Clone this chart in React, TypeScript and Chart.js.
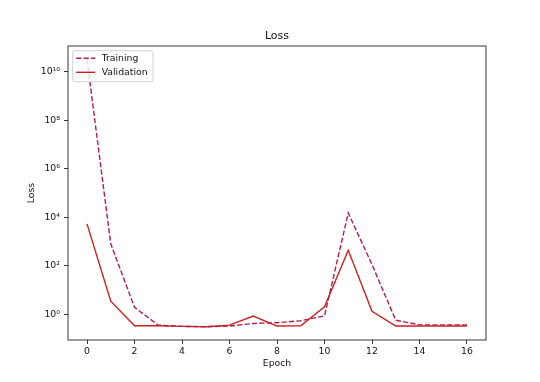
import React, { useEffect, useRef } from "react";
import { Chart, registerables } from "chart.js";

Chart.register(...registerables);

const epochs = [0, 1, 2, 3, 4, 5, 6, 7, 8, 9, 10, 11, 12, 13, 14, 15, 16];
const trainingLoss = [3.3e10, 800, 1.9, 0.35, 0.31, 0.3, 0.32, 0.41, 0.44, 0.53, 0.85, 15000, 110, 0.56, 0.36, 0.36, 0.36];
const validationLoss = [5300, 3.4, 0.33, 0.33, 0.31, 0.3, 0.35, 0.83, 0.32, 0.33, 2.0, 430, 1.3, 0.32, 0.32, 0.32, 0.32];
const xTicks = [0, 2, 4, 6, 8, 10, 12, 14, 16];
const yTicks = [1, 1e2, 1e4, 1e6, 1e8, 1e10];
const yTickLabels = ["10⁰", "10²", "10⁴", "10⁶", "10⁸", "10¹⁰"];
const seriesNames = ["Training", "Validation"];
const chartTitle = "Loss";
const xTitle = "Epoch";
const yTitle = "Loss";

const FONT = "'DejaVu Sans', sans-serif";
const TRAIN_COLOR = "#b0204a";
const VAL_COLOR = "#cc1f1f";

const framePlugin = {
  id: "frameAndExtras",
  afterDraw(chart: any) {
    const { ctx, chartArea } = chart;
    const { left, right, top, bottom } = chartArea;
    ctx.save();
    // frame
    ctx.strokeStyle = "#222";
    ctx.lineWidth = 0.9;
    ctx.strokeRect(left, top, right - left, bottom - top);
    // title
    ctx.fillStyle = "#111";
    ctx.font = `11px ${FONT}`;
    ctx.textAlign = "center";
    ctx.textBaseline = "middle";
    ctx.fillText(chartTitle, (left + right) / 2, top - 10);
    // legend
    const bx = left + 4.7, by = top + 4.7, bw = 80.3, bh = 31;
    const r = 2;
    ctx.beginPath();
    ctx.moveTo(bx + r, by);
    ctx.lineTo(bx + bw - r, by);
    ctx.quadraticCurveTo(bx + bw, by, bx + bw, by + r);
    ctx.lineTo(bx + bw, by + bh - r);
    ctx.quadraticCurveTo(bx + bw, by + bh, bx + bw - r, by + bh);
    ctx.lineTo(bx + r, by + bh);
    ctx.quadraticCurveTo(bx, by + bh, bx, by + bh - r);
    ctx.lineTo(bx, by + r);
    ctx.quadraticCurveTo(bx, by, bx + r, by);
    ctx.closePath();
    ctx.fillStyle = "rgba(255,255,255,0.8)";
    ctx.fill();
    ctx.strokeStyle = "#d0d0d0";
    ctx.lineWidth = 1;
    ctx.stroke();
    const ds = chart.data.datasets;
    const rows = [by + 7.6, by + 21.6];
    ds.forEach((d: any, i: number) => {
      ctx.beginPath();
      ctx.setLineDash(d.borderDash || []);
      ctx.strokeStyle = d.borderColor;
      ctx.lineWidth = d.borderWidth;
      ctx.moveTo(bx + 3.5, rows[i]);
      ctx.lineTo(bx + 22.5, rows[i]);
      ctx.stroke();
      ctx.setLineDash([]);
      ctx.fillStyle = "#111";
      ctx.font = `9.3px ${FONT}`;
      ctx.textAlign = "left";
      ctx.textBaseline = "middle";
      ctx.fillText(d.label, bx + 29, rows[i]);
    });
    ctx.restore();
  },
};

export default function App() {
  const ref = useRef<HTMLCanvasElement | null>(null);
  useEffect(() => {
    if (!ref.current) return;
    const chart = new Chart(ref.current, {
      type: "line",
      data: {
        datasets: [
          {
            label: seriesNames[0],
            data: epochs.map((e, i) => ({ x: e, y: trainingLoss[i] })),
            borderColor: TRAIN_COLOR,
            backgroundColor: TRAIN_COLOR,
            borderWidth: 1.4,
            borderDash: [5.2, 2.2],
            pointRadius: 0,
            tension: 0,
            fill: false,
          },
          {
            label: seriesNames[1],
            data: epochs.map((e, i) => ({ x: e, y: validationLoss[i] })),
            borderColor: VAL_COLOR,
            backgroundColor: VAL_COLOR,
            borderWidth: 1.4,
            pointRadius: 0,
            tension: 0,
            fill: false,
          },
        ],
      },
      options: {
        responsive: false,
        animation: false,
        layout: { padding: { top: 46, left: 0, right: 54, bottom: 0 } },
        plugins: {
          legend: { display: false },
          title: { display: false },
          tooltip: { enabled: false },
        },
        scales: {
          x: {
            type: "linear",
            min: -0.8,
            max: 16.8,
            afterFit: (s: any) => {
              s.height = 42;
            },
            afterBuildTicks: (s: any) => {
              s.ticks = xTicks.map((v) => ({ value: v }));
            },
            ticks: {
              color: "#111",
              font: { family: FONT, size: 9.3 },
              padding: 2,
              maxRotation: 0,
              autoSkip: false,
              callback: (v: any) => String(v),
            },
            grid: {
              display: true,
              drawOnChartArea: false,
              drawTicks: true,
              tickLength: 4,
              color: "#222",
              lineWidth: 0.9,
            },
            border: { display: false },
            title: {
              display: true,
              text: xTitle,
              color: "#111",
              font: { family: FONT, size: 9.3 },
              padding: { top: 0, bottom: 12.4 },
            },
          },
          y: {
            type: "logarithmic",
            min: Math.pow(10, -1.07),
            max: Math.pow(10, 11.07),
            afterFit: (s: any) => {
              s.width = 68;
            },
            afterBuildTicks: (s: any) => {
              s.ticks = yTicks.map((v) => ({ value: v }));
            },
            ticks: {
              color: "#111",
              font: { family: FONT, size: 9.3 },
              padding: 4,
              autoSkip: false,
              callback: (v: any) => {
                const idx = yTicks.findIndex((t) => Math.abs(Math.log10(t) - Math.log10(v)) < 1e-6);
                return idx >= 0 ? yTickLabels[idx] : "";
              },
            },
            grid: {
              display: true,
              drawOnChartArea: false,
              drawTicks: true,
              tickLength: 4,
              color: "#222",
              lineWidth: 0.9,
            },
            border: { display: false },
            title: {
              display: true,
              text: yTitle,
              color: "#111",
              font: { family: FONT, size: 9.3 },
              padding: { top: 26.4, bottom: 0 },
            },
          },
        },
      },
      plugins: [framePlugin],
    });
    return () => chart.destroy();
  }, []);
  return (
    <div style={{ position: "absolute", left: 0, top: 0, width: 540, height: 382, background: "#fff" }}>
      <canvas ref={ref} width={540} height={382} />
    </div>
  );
}
